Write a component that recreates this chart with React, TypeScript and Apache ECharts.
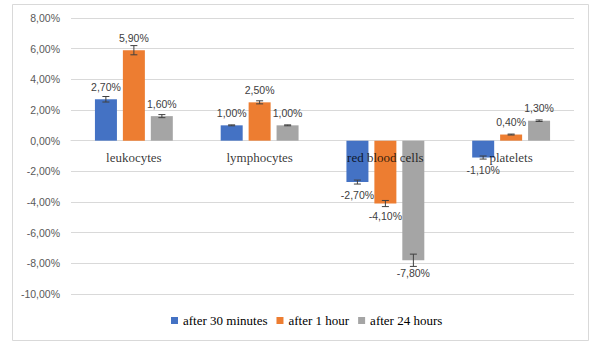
import React, { useEffect, useRef } from "react";
import * as echarts from "echarts";

const categories = ["leukocytes", "lymphocytes", "red blood cells", "platelets"];
const seriesNames = ["after 30 minutes", "after 1 hour", "after 24 hours"];
const after30 = [2.7, 1.0, -2.7, -1.1];
const after1h = [5.9, 2.5, -4.1, 0.4];
const after24 = [1.6, 1.0, -7.8, 1.3];
const err30 = [0.18, 0.03, 0.13, 0.1];
const err1h = [0.3, 0.1, 0.2, 0.03];
const err24 = [0.1, 0.03, 0.4, 0.05];
const colors = ["#4472c4", "#ed7d31", "#a5a5a5"];

const fmt = (v: number) => v.toFixed(2).replace(".", ",") + "%";

export default function App() {
  const ref = useRef<HTMLDivElement>(null);
  useEffect(() => {
    if (!ref.current) return;
    const chart = echarts.init(ref.current, null, { renderer: "svg" });
    const values = [after30, after1h, after24];
    const errs = [err30, err1h, err24];
    const offsets = [-28, 0, 28];

    const barSeries = values.map((vals, si) => ({
      type: "bar",
      name: seriesNames[si],
      barWidth: 22,
      barGap: "27%",
      itemStyle: { color: colors[si] },
      data: vals.map((v) => ({
        value: v,
        label: {
          show: true,
          position: v >= 0 ? "top" : "bottom",
          distance: 7,
          formatter: () => fmt(v),
          color: "#404040",
          fontSize: 10.5,
          fontFamily: "Liberation Sans",
        },
      })),
    }));

    const errSeries = values.map((vals, si) => ({
      type: "custom",
      name: seriesNames[si] + " err",
      z: 5,
      silent: true,
      data: vals.map((v, i) => [i, v, errs[si][i]]),
      renderItem: (params: any, api: any) => {
        const idx = api.value(0);
        const v = api.value(1);
        const e = api.value(2);
        const p1 = api.coord([idx, v + e]);
        const p2 = api.coord([idx, v - e]);
        const x = p1[0] + offsets[si];
        const style = { stroke: "#404040", lineWidth: 1 };
        return {
          type: "group",
          children: [
            { type: "line", shape: { x1: x, y1: p1[1], x2: x, y2: p2[1] }, style },
            { type: "line", shape: { x1: x - 3.5, y1: p1[1], x2: x + 3.5, y2: p1[1] }, style },
            { type: "line", shape: { x1: x - 3.5, y1: p2[1], x2: x + 3.5, y2: p2[1] }, style },
          ],
        };
      },
    }));

    const catLabelSeries = {
      type: "scatter",
      name: "categories",
      z: 10,
      silent: true,
      symbolSize: 1,
      itemStyle: { color: "rgba(0,0,0,0)" },
      data: categories.map((c) => [c, 0]),
      label: {
        show: true,
        position: "bottom",
        distance: 10,
        formatter: (p: any) => p.data[0],
        color: "#000",
        fontFamily: "Liberation Serif",
        fontSize: 13,
      },
    };

    chart.setOption({
      animation: false,
      graphic: [
        {
          type: "rect",
          shape: { x: 12.5, y: 4.5, width: 576, height: 336 },
          style: { fill: "none", stroke: "#d9d9d9", lineWidth: 1 },
        },
      ],
      legend: {
        data: seriesNames.map((n, i) => ({ name: n, itemStyle: { color: colors[i] } })),
        left: 171,
        top: 314,
        padding: 0,
        itemWidth: 7,
        itemHeight: 7,
        itemGap: 9,
        icon: "rect",
        textStyle: { fontFamily: "Liberation Serif", fontSize: 13, color: "#000" },
      },
      grid: { left: 71, right: 24, top: 18, bottom: 62 },
      xAxis: {
        type: "category",
        data: categories,
        axisLine: { show: true, onZero: true, lineStyle: { color: "#d9d9d9" } },
        axisTick: { show: false },
        axisLabel: { show: false },
      },
      yAxis: {
        type: "value",
        min: -10,
        max: 8,
        interval: 2,
        axisLine: { show: false },
        axisTick: { show: false },
        splitLine: { lineStyle: { color: "#d9d9d9" } },
        axisLabel: {
          formatter: (v: number) => fmt(v),
          color: "#595959",
          fontSize: 10.5,
          fontFamily: "Liberation Sans",
          margin: 11,
        },
      },
      series: [...barSeries, ...errSeries, catLabelSeries],
    });
    return () => chart.dispose();
  }, []);
  return (
    <div
      ref={ref}
      style={{ position: "fixed", left: 0, top: 0, width: 598, height: 356, background: "#fff" }}
    />
  );
}
